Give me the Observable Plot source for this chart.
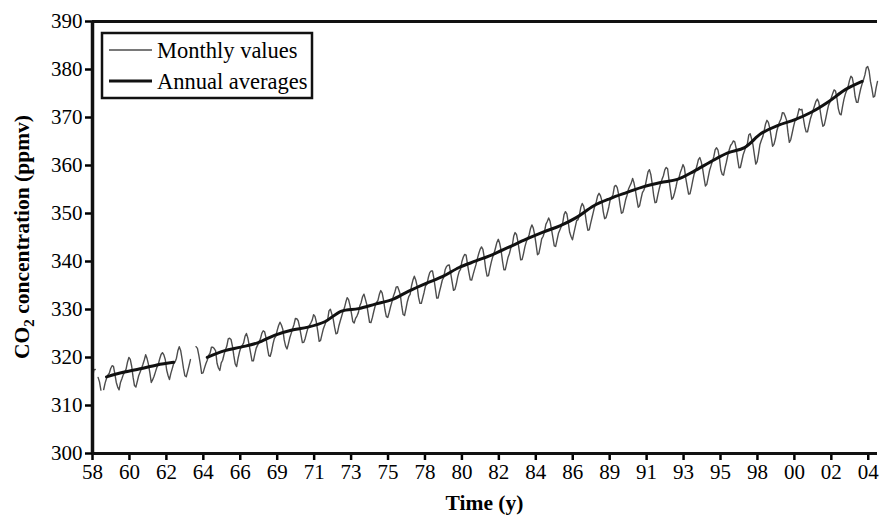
<!DOCTYPE html>
<html>
<head>
<meta charset="utf-8">
<script src="https://cdn.jsdelivr.net/npm/d3@7"></script>
<script src="https://cdn.jsdelivr.net/npm/@observablehq/plot@0.6"></script>
<style>
  body { margin: 0; background: #fff; }
  #chart { width: 881px; height: 517px; }
</style>
</head>
<body>
<div id="chart"></div>
<script>
// Mauna Loa monthly CO2 (ppmv), March 1958 – December 2004; null = month not measured
const monthlyStart = 1958 + 2 / 12;
const monthlyValues = [
  315.71, 317.45, 317.50, null, 315.86, 314.93, 313.20, null, 313.33, 314.67,
  315.62, 316.38, 316.71, 317.72, 318.29, 318.15, 316.54, 314.80, 313.84, 313.26, 314.80, 315.58,
  316.43, 316.97, 317.58, 319.02, 320.03, 319.59, 318.18, 315.91, 314.16, 313.83, 315.00, 316.19,
  316.93, 317.70, 318.54, 319.48, 320.58, 319.77, 318.57, 316.79, 314.80, 315.38, 316.10, 317.01,
  317.94, 318.56, 319.68, 320.63, 321.01, 320.55, 319.58, 317.40, 316.26, 315.42, 316.69, 317.69,
  318.74, 319.08, 319.86, 321.39, 322.25, 321.47, 319.74, 317.77, 316.21, 315.99, 317.12, 318.31,
  319.57, null, null, null, 322.26, 321.89, 320.44, 318.70, 316.70, 316.79, 317.79, 318.71,
  319.44, 320.44, 320.89, 322.13, 322.16, 321.87, 321.39, 318.81, 317.81, 317.30, 318.87, 319.42,
  320.62, 321.59, 322.39, 323.87, 324.01, 323.75, 322.39, 320.37, 318.64, 318.10, 319.79, 321.08,
  322.07, 322.50, 323.04, 324.42, 325.00, 324.09, 322.55, 320.92, 319.31, 319.31, 320.72, 321.96,
  322.57, 323.15, 323.89, 325.02, 325.57, 325.36, 324.14, 322.03, 320.41, 320.25, 321.31, 322.84,
  324.00, 324.42, 325.64, 326.66, 327.34, 326.76, 325.88, 323.67, 322.38, 321.78, 322.85, 324.12,
  325.03, 325.99, 326.87, 328.13, 328.07, 327.66, 326.35, 324.69, 323.10, 323.16, 323.98, 325.13,
  326.17, 326.68, 327.18, 327.78, 328.92, 328.57, 327.34, 325.46, 323.36, 323.57, 324.80, 326.01,
  326.77, 327.63, 327.75, 329.72, 330.07, 329.09, 328.05, 326.32, 324.93, 325.06, 326.50, 327.55,
  328.54, 329.56, 330.30, 331.50, 332.48, 332.07, 330.87, 329.31, 327.51, 327.18, 328.16, 328.64,
  329.35, 330.71, 331.48, 332.65, 333.20, 332.16, 331.07, 329.12, 327.32, 327.28, 328.30, 329.58,
  330.73, 331.46, 331.90, 333.17, 333.94, 333.45, 331.97, 329.95, 328.50, 328.34, 329.37, 330.58,
  331.59, 332.75, 333.52, 334.64, 334.77, 334.00, 333.06, 330.68, 328.95, 328.75, 330.15, 331.62,
  332.66, 333.13, 334.95, 336.13, 336.93, 336.17, 334.88, 332.56, 331.29, 331.27, 332.41, 333.60,
  334.95, 335.25, 336.66, 337.69, 338.03, 338.01, 336.41, 334.41, 332.37, 332.41, 333.75, 334.90,
  336.14, 336.69, 338.27, 338.96, 339.21, 339.26, 337.54, 335.75, 333.98, 334.19, 335.31, 336.81,
  337.90, 338.34, 340.01, 340.93, 341.48, 341.33, 339.40, 337.70, 336.19, 336.15, 337.27, 338.32,
  339.29, 340.55, 341.61, 342.53, 343.03, 342.54, 340.78, 338.44, 336.95, 337.08, 338.58, 339.88,
  340.96, 341.73, 342.81, 343.97, 344.63, 343.79, 342.32, 340.09, 338.28, 338.29, 339.60, 340.90,
  341.68, 342.90, 343.33, 345.25, 346.03, 345.63, 344.19, 342.27, 340.35, 340.38, 341.59, 343.05,
  344.10, 344.79, 345.52, 346.84, 347.63, 346.98, 345.53, 343.55, 341.40, 341.67, 343.10, 344.70,
  345.21, 346.16, 347.74, 348.34, 349.06, 348.38, 346.72, 345.02, 343.27, 343.13, 344.49, 345.88,
  346.56, 347.28, 348.01, 349.77, 350.38, 349.93, 348.16, 346.08, 345.22, 344.51, 345.93, 347.22,
  348.52, 348.73, 349.73, 351.31, 352.09, 351.53, 350.11, 348.08, 346.52, 346.59, 347.96, 349.16,
  350.39, 351.64, 352.41, 353.69, 354.21, 353.72, 352.69, 350.40, 348.92, 349.13, 350.20, 351.41,
  352.91, 353.27, 353.96, 355.64, 355.86, 355.37, 353.99, 351.81, 350.05, 350.25, 351.49, 352.85,
  353.80, 355.04, 355.73, 356.32, 357.32, 356.34, 354.84, 353.01, 351.31, 351.62, 353.07, 354.33,
  354.84, 355.73, 357.23, 358.66, 359.13, 358.13, 356.19, 353.85, 352.25, 352.35, 353.81, 355.12,
  356.25, 357.11, 357.86, 359.09, 359.59, 359.33, 357.01, 354.94, 352.96, 353.32, 354.32, 355.57,
  357.00, 357.31, 358.47, 359.27, 360.19, 359.52, 357.33, 355.64, 354.03, 354.12, 355.41, 356.91,
  358.24, 358.92, 359.99, 361.23, 361.65, 360.81, 359.38, 357.46, 355.73, 356.08, 357.53, 358.98,
  359.92, 360.86, 361.83, 363.30, 363.69, 363.19, 361.64, 359.12, 358.17, 357.99, 359.45, 360.68,
  362.07, 363.24, 364.17, 364.57, 365.13, 364.92, 363.55, 361.38, 359.54, 359.58, 360.89, 362.24,
  363.09, 364.03, 364.51, 366.35, 366.64, 365.59, 364.31, 362.25, 360.29, 360.82, 362.49, 364.38,
  365.26, 365.98, 367.24, 368.66, 369.42, 368.99, 367.82, 365.95, 364.02, 364.40, 365.52, 367.13,
  368.18, 369.07, 369.68, 370.99, 370.96, 370.30, 369.45, 366.90, 364.81, 365.37, 366.72, 368.10,
  369.29, 369.55, 370.60, 371.82, 371.58, 371.70, 369.86, 368.13, 367.00, 367.03, 368.37, 369.67,
  370.59, 371.51, 372.43, 373.37, 373.85, 373.21, 371.51, 369.61, 368.18, 368.45, 369.76, 371.24,
  372.53, 373.20, 374.12, 375.02, 375.76, 375.52, 374.01, 371.85, 370.75, 370.55, 372.25, 373.79,
  374.88, 375.64, 376.45, 377.73, 378.60, 378.28, 376.70, 374.38, 373.17, 373.14, 374.66, 375.99,
  377.00, 377.87, 378.88, 380.35, 380.62, 379.69, 377.47, 376.01, 374.25, 374.46, 376.16, 377.51
];

// Annual averages, plotted at the start of each year (1964 incomplete, left out)
const annualYears = d3.range(1959, 2005);
const annualMeans = [
  315.97, 316.91, 317.64, 318.45, 318.99, null, 320.04, 321.38, 322.16, 323.04,
  324.62, 325.68, 326.32, 327.45, 329.68, 330.18, 331.11, 332.04, 333.83, 335.40,
  336.84, 338.75, 340.11, 341.45, 343.05, 344.65, 346.12, 347.42, 349.19, 351.57,
  353.12, 354.39, 355.61, 356.45, 357.10, 358.83, 360.82, 362.61, 363.73, 366.70,
  368.38, 369.55, 371.14, 373.28, 375.80, 377.52
];

const yTicks = [300, 310, 320, 330, 340, 350, 360, 370, 380, 390];
const xTickLabels = ["58", "60", "62", "64", "66", "69", "71", "73", "75", "78", "80",
                     "82", "84", "86", "89", "91", "93", "95", "98", "00", "02", "04"];

// Category-style time axis: one labelled tick every 26.4 months from March 1958
const xTicks = xTickLabels.map((_, i) => monthlyStart + i * 2.2);
const labelByTick = new Map(xTicks.map((t, i) => [t, xTickLabels[i]]));

const monthly = monthlyValues.map((v, i) => ({t: monthlyStart + i / 12, v}));
const annual = annualYears.map((y, i) => ({t: y, v: annualMeans[i]}));

const xEnd = 2004 + 11 / 12;
const serif = '"Liberation Serif", "Times New Roman", Times, serif';

const chart = Plot.plot({
  width: 881,
  height: 517,
  marginLeft: 92,
  marginRight: 4,
  marginTop: 21,
  marginBottom: 64,
  style: {fontFamily: serif, fontSize: "21px", color: "#000", background: "#fff"},
  x: {domain: [monthlyStart, xEnd]},
  y: {domain: [300, 390]},
  marks: [
    Plot.axisY({ticks: yTicks, tickSize: 7, tickPadding: 3, strokeWidth: 2.5,
                fontSize: 21, label: null, tickFormat: d => String(d)}),
    Plot.axisX({ticks: xTicks, tickSize: 7, tickPadding: 4, strokeWidth: 2.5,
                fontSize: 21, label: null, tickFormat: d => labelByTick.get(d)}),
    Plot.lineY(monthly, {x: "t", y: "v", stroke: "#4d4d4d", strokeWidth: 1.4}),
    Plot.line(annual, {x: "t", y: "v", stroke: "#111", strokeWidth: 3, curve: "catmull-rom"}),
    Plot.ruleX([monthlyStart], {stroke: "#111", strokeWidth: 3.5}),
    Plot.ruleY([300], {stroke: "#111", strokeWidth: 3}),
    Plot.ruleY([390], {stroke: "#111", strokeWidth: 3})
  ]
});

document.getElementById("chart").append(chart);

// Axis titles and the legend box
const svg = d3.select(chart);

svg.append("text")
  .attr("x", (92 + 877) / 2)
  .attr("y", 510)
  .attr("text-anchor", "middle")
  .attr("font-family", serif)
  .attr("font-size", 21.5)
  .attr("font-weight", "bold")
  .text("Time (y)");

const yTitle = svg.append("text")
  .attr("transform", `translate(29,${(21 + 453) / 2}) rotate(-90)`)
  .attr("text-anchor", "middle")
  .attr("font-family", serif)
  .attr("font-size", 21.5)
  .attr("font-weight", "bold");
yTitle.append("tspan").text("CO");
yTitle.append("tspan").attr("font-size", 15).attr("dy", 5).text("2");
yTitle.append("tspan").attr("dy", -5).text(" concentration (ppmv)");

const legendItems = [
  {label: "Monthly values", stroke: "#4d4d4d", width: 1.4},
  {label: "Annual averages", stroke: "#111", width: 3}
];
const legend = svg.append("g")
  .attr("font-family", serif)
  .attr("font-size", 22.5)
  .attr("text-anchor", "start");
legend.append("rect")
  .attr("x", 102).attr("y", 33).attr("width", 210).attr("height", 65)
  .attr("fill", "#fff").attr("stroke", "#111").attr("stroke-width", 2.5);
legendItems.forEach((d, i) => {
  const cy = 50 + i * 31;
  legend.append("line")
    .attr("x1", 109).attr("x2", 152).attr("y1", cy).attr("y2", cy)
    .attr("stroke", d.stroke).attr("stroke-width", d.width);
  legend.append("text")
    .attr("x", 157).attr("y", cy).attr("dy", "0.35em")
    .text(d.label);
});
</script>
</body>
</html>
